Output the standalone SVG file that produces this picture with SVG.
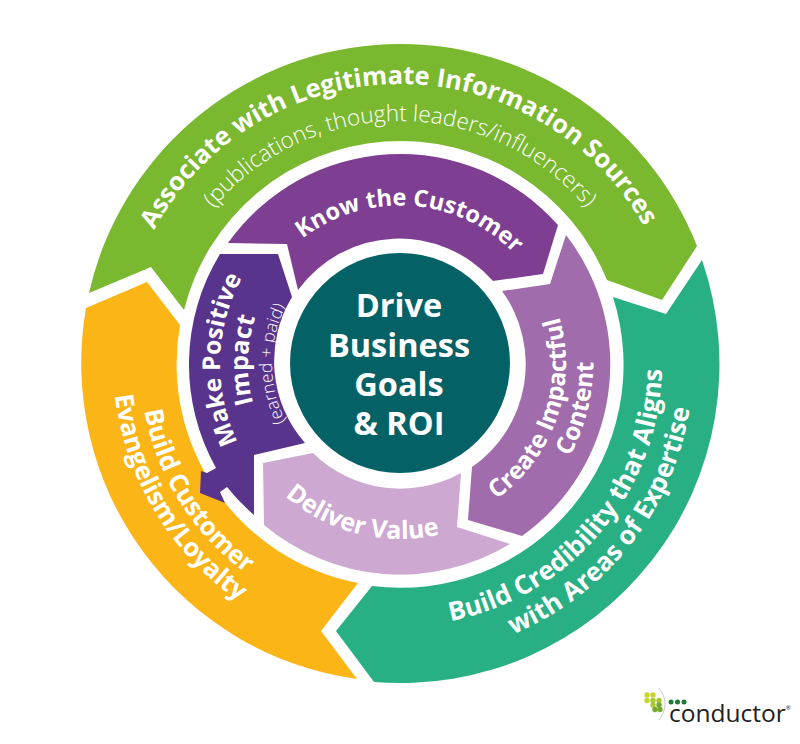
<svg xmlns="http://www.w3.org/2000/svg" width="800" height="744" viewBox="0 0 800 744">
<style>
text{font-family:"Open Sans","Noto Sans","Liberation Sans",sans-serif;fill:#fff;font-weight:700;text-anchor:middle}
.l{font-weight:300}
.c{font-size:32.5px}
</style>
<defs>
<path id="pA" d="M120 366A280 280 0 0 1 680 362"/>
<path id="pB" d="M157 364A243 243 0 0 1 643 364"/>
<path id="pK" d="M240.4 352.8A160 160 0 0 1 559.6 375.2"/>
<path id="pM1" d="M400 544A180 180 0 0 1 400 184"/>
<path id="pM2" d="M400 516A152 152 0 0 1 400 212"/>
<path id="pM3" d="M400 492A128 128 0 0 1 400 236"/>
<path id="pC1" d="M345.9 521A166 166 0 0 0 454.1 207"/>
<path id="pC2" d="M352.3 555.1A197 197 0 0 0 447.7 172.9"/>
<path id="pD" d="M230.2 321.6A175 175 0 0 0 569.8 406.4"/>
<path id="pY1" d="M262.2 143.5A260 260 0 0 0 537.8 584.5"/>
<path id="pY2" d="M249 113A293 293 0 0 0 551 615"/>
<path id="pT1" d="M231.5 564.7A262 262 0 0 0 568.5 163.3"/>
<path id="pT2" d="M219.5 594.9A293 293 0 0 0 580.5 133.1"/>
</defs>
<rect width="800" height="744" fill="#fff"/>
<g id="associate">
<path fill="#7ab82f" d="M89 293A319 319 0 0 1 697 246L662 300L607 280A223 223 0 0 0 184 310L151 267Z"/>
<text font-size="25.5"><textPath href="#pA" startOffset="50%">Associate with Legitimate Information Sources</textPath></text>
<text class="l" font-size="22.5"><textPath href="#pB" startOffset="50%">(publications, thought leaders/influencers)</textPath></text>
</g>
<g id="credibility">
<path fill="#28b084" d="M702 260A319 319 0 0 1 374 682L336 631L372 586A223 223 0 0 0 613 297L666 314Z"/>
<text font-size="26"><textPath href="#pT1" startOffset="50%">Build Credibility that Aligns</textPath></text>
<text font-size="26"><textPath href="#pT2" startOffset="50%">with Areas of Expertise</textPath></text>
</g>
<g id="evangelism">
<path fill="#fbb516" d="M86 308A319 319 0 0 0 357 679L321 631L358 583A223 223 0 0 1 180 325L147 282Z"/>
<text font-size="25.5"><textPath href="#pY1" startOffset="50%">Build Customer</textPath></text>
<text font-size="25.5"><textPath href="#pY2" startOffset="50%">Evangelism/Loyalty</textPath></text>
</g>
<g id="impact">
<path fill="#58348c" d="M220 254L278 254L292 297A124 124 0 0 0 305 443L254 455L254 515A212 212 0 0 1 227 487L220 492L225 503L200 493L201 471L207 473L216 468A212 212 0 0 1 220 254Z"/>
<text font-size="24.5"><textPath href="#pM1" startOffset="50.8%">Make Positive</textPath></text>
<text font-size="25"><textPath href="#pM2" startOffset="50.8%">Impact</textPath></text>
<text class="l" font-size="17.5"><textPath href="#pM3" startOffset="50%">(earned + paid)</textPath></text>
</g>
<g id="customer">
<path fill="#7e3f92" d="M228 243A211 211 0 0 1 558 225L543 274L493 281A125 125 0 0 0 298 290L287 244Z"/>
<text font-size="23.5"><textPath href="#pK" startOffset="50%">Know the Customer</textPath></text>
</g>
<g id="content">
<path fill="#a06cac" d="M566 235A211 211 0 0 1 522 536L468 520L472 467A125 125 0 0 0 502 291L550 284Z"/>
<text font-size="24.5"><textPath href="#pC1" startOffset="50%">Create Impactful</textPath></text>
<text font-size="24.5"><textPath href="#pC2" startOffset="50%">Content</textPath></text>
</g>
<g id="value">
<path fill="#cda8d1" d="M263 463L313 453A125 125 0 0 0 461 473L457 527L510 544A212 212 0 0 1 264 525Z"/>
<text font-size="25"><textPath href="#pD" startOffset="50%">Deliver Value</textPath></text>
</g>
<g id="goals">
<circle cx="400" cy="363" r="110" fill="#046166"/>
<text class="c" x="399" y="317">Drive</text>
<text class="c" x="399" y="357">Business</text>
<text class="c" x="399" y="396">Goals</text>
<text class="c" x="399" y="435">&amp; ROI</text>
</g>
<g id="logo">
<path d="M659 688Q671 704 659 720" fill="none" stroke="#d4d4d0" stroke-width="1.2"/>
<g fill="#c6d52c"><circle cx="647" cy="695" r="2.7"/><circle cx="653" cy="695" r="2.7"/><circle cx="647" cy="700.5" r="2.7"/></g>
<g fill="#a9c92f"><circle cx="653" cy="700.5" r="2.7"/><circle cx="659" cy="700.5" r="2.7"/><circle cx="653" cy="705" r="2.7"/></g>
<g fill="#76a82f"><circle cx="659" cy="705" r="2.7"/><circle cx="655" cy="709.5" r="2.7"/><circle cx="660" cy="709.5" r="2.7"/></g>
<g fill="#1f7a3a"><circle cx="671" cy="702" r="2.5"/><circle cx="677.5" cy="702" r="2.5"/><circle cx="684" cy="702" r="2.5"/></g>
<text x="669" y="722" font-size="24.5" style="fill:#222;text-anchor:start;font-weight:500">conductor<tspan font-size="6" dy="-12">®</tspan></text>
</g>
</svg>
